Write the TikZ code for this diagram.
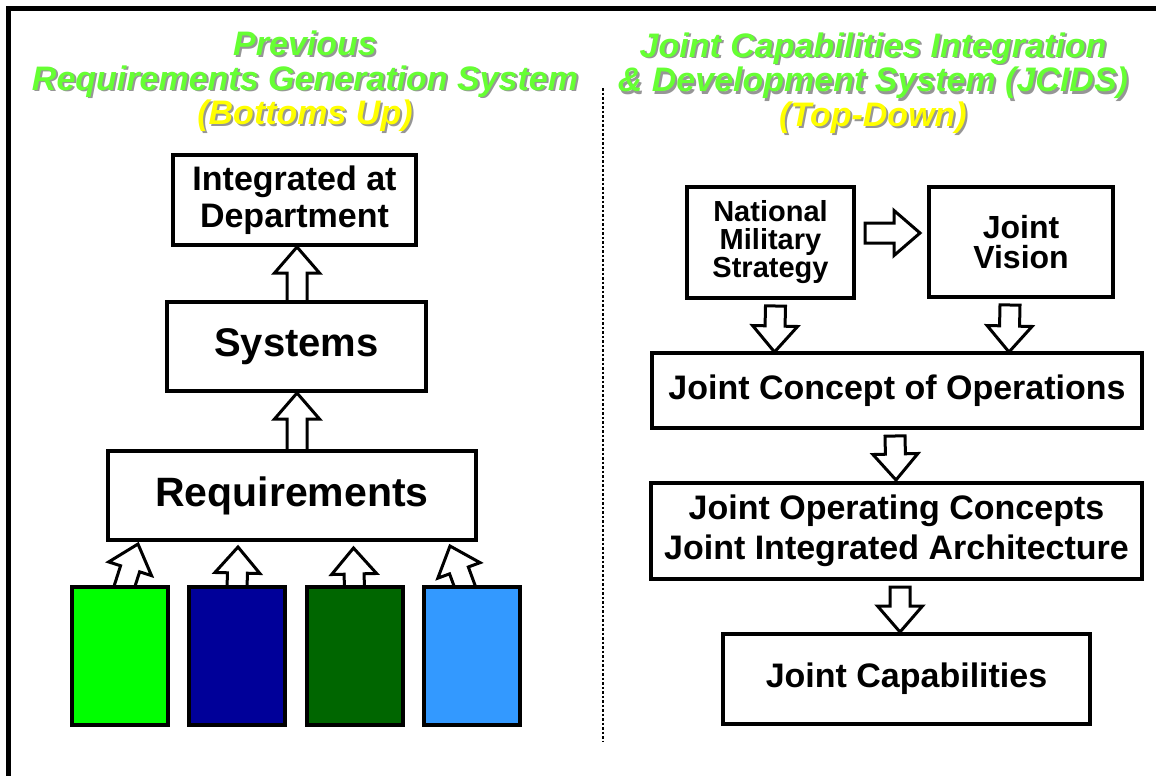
\documentclass[tikz,border=0pt]{standalone}
\usepackage{fontspec}
\setmainfont{Liberation Sans}
\usetikzlibrary{calc,backgrounds}
\definecolor{ttlgreen}{RGB}{102,255,51}
\definecolor{ttlyellow}{RGB}{255,255,0}
\definecolor{shade}{RGB}{150,150,150}
\definecolor{boxgreen}{RGB}{0,255,0}
\definecolor{boxblue}{RGB}{0,0,153}
\definecolor{boxdkgreen}{RGB}{0,102,0}
\definecolor{boxltblue}{RGB}{51,153,255}
\newcommand{\tightlines}{\lineskiplimit=-40pt\relax}
\tikzset{
  box/.style={draw=black, line width=4pt, fill=white, inner sep=0pt, align=center},
  colbox/.style={draw=black, line width=4pt, inner sep=0pt},
  blockarr/.style={draw=black, line width=3pt, fill=white, line join=miter},
  title/.style={font=\bfseries\itshape\fontsize{34}{34}\selectfont, anchor=base, inner sep=0pt},
  frameline/.style={draw=black, line width=5pt, line join=miter},
  divider/.style={draw=black, line width=2.5pt, dash pattern=on 2.5pt off 2pt},
}
\newcommand{\blockarrow}[2]{%
  \draw[blockarr] let \p1=#1, \p2=#2,
    \n1={atan2(\y2-\y1,\x2-\x1)}, \n2={veclen(\x2-\x1,\y2-\y1)} in
    [shift={(\p1)}, rotate=\n1]
    (0pt,-10pt) -- ({\n2-26pt},-10pt) -- ({\n2-26pt},-22.5pt) -- ({\n2+0pt},0pt)
    -- ({\n2-26pt},22.5pt) -- ({\n2-26pt},10pt) -- (0pt,10pt) -- cycle;}
\newcommand{\ttl}[4]{%
  \node[title, text=shade] (#1s) at ($(#2)+(2,2)$) {#4};
  \node[title, text=#3] (#1) at (#2) {#4};}
\begin{document}
\begin{tikzpicture}[x=1pt, y=-1pt]
\useasboundingbox (0,0) rectangle (1156,776);
% frame (top and left edges visible)
\draw[frameline] (8.5,800) -- (8.5,8.5) -- (1180,8.5);
% divider
\draw[divider] (603,88) -- (603,742);
% titles
\ttl{tl1}{305,56}{ttlgreen}{Previous}
\ttl{tl2}{305,90}{ttlgreen}{Requirements Generation System}
\ttl{tl3}{305,124}{ttlyellow}{(Bottoms Up)}
\ttl{tr1}{873,57}{ttlgreen}{Joint Capabilities Integration}
\ttl{tr2}{873,92}{ttlgreen}{\& Development System (JCIDS)}
\ttl{tr3}{873,126}{ttlyellow}{(Top-Down)}
% left boxes
\node[box, minimum width=243pt, minimum height=90pt, font=\bfseries\fontsize{34}{37}\selectfont] (int) at (294.5,200) {Integrated at\\Department};
\node[box, minimum width=259pt, minimum height=89pt, font=\bfseries\fontsize{40}{44}\selectfont] (sys) at (296.5,346.5) {Systems};
\node[box, minimum width=368pt, minimum height=89pt, font=\bfseries\fontsize{41}{44}\selectfont] (req) at (292,495.5) {Requirements};
\node[colbox, fill=boxgreen, minimum width=96pt, minimum height=138pt] (g) at (120,656) {};
\node[colbox, fill=boxblue, minimum width=96pt, minimum height=138pt] (b) at (237,656) {};
\node[colbox, fill=boxdkgreen, minimum width=96pt, minimum height=138pt] (dg) at (354.5,656) {};
\node[colbox, fill=boxltblue, minimum width=96pt, minimum height=138pt] (lb) at (471.5,656) {};
% right boxes
\node[box, minimum width=167pt, minimum height=111pt, font={\bfseries\fontsize{29}{28}\selectfont\tightlines}] (nms) at (770.5,242.5) {National\\Military\\Strategy};
\node[box, minimum width=184pt, minimum height=110pt, font={\bfseries\fontsize{32}{30}\selectfont\tightlines}] (jv) at (1021,242) {Joint\\Vision};
\node[box, minimum width=490pt, minimum height=75pt, font=\bfseries\fontsize{34}{40}\selectfont] (jco) at (897,390.5) {Joint Concept of Operations};
\node[box, minimum width=491pt, minimum height=96pt, font=\bfseries\fontsize{34}{40}\selectfont] (joc) at (896.5,531) {Joint Operating Concepts\\Joint Integrated Architecture};
\node[box, minimum width=367pt, minimum height=90pt, font=\bfseries\fontsize{34}{40}\selectfont] (jc) at (906.5,679) {Joint Capabilities};
% block arrows (behind boxes)
\begin{scope}[on background layer]
\blockarrow{($(sys.north)+(0.5,6)$)}{($(int.south)+(2.5,0)$)}
\blockarrow{($(req.north)+(5,6)$)}{($(sys.south)+(0.5,0)$)}
\blockarrow{($(g.north)+(3,6)$)}{($(req.south west)+(32,2)$)}
\blockarrow{($(b.north)+(0,6)$)}{($(b.north |- req.south)+(1,5)$)}
\blockarrow{($(dg.north)+(0,6)$)}{($(dg.north |- req.south)+(-1,6)$)}
\blockarrow{($(lb.north)+(-5,6)$)}{($(req.south east)+(-28,4)$)}
\blockarrow{($(nms.south)+(5,6)$)}{($(nms.south |- jco.north)+(4,1)$)}
\blockarrow{($(jv.south)+(-11,6)$)}{($(jv.south |- jco.north)+(-12,1)$)}
\blockarrow{($(jco.south)+(-2,6)$)}{($(joc.north)+(-0.5,-1)$)}
\blockarrow{($(joc.south)+(3.5,6)$)}{($(jc.north)+(-6.5,0)$)}
\end{scope}
\blockarrow{($(nms.east)+(9,-9.5)$)}{($(jv.west)+(-7,-9)$)}
\end{tikzpicture}
\end{document}
